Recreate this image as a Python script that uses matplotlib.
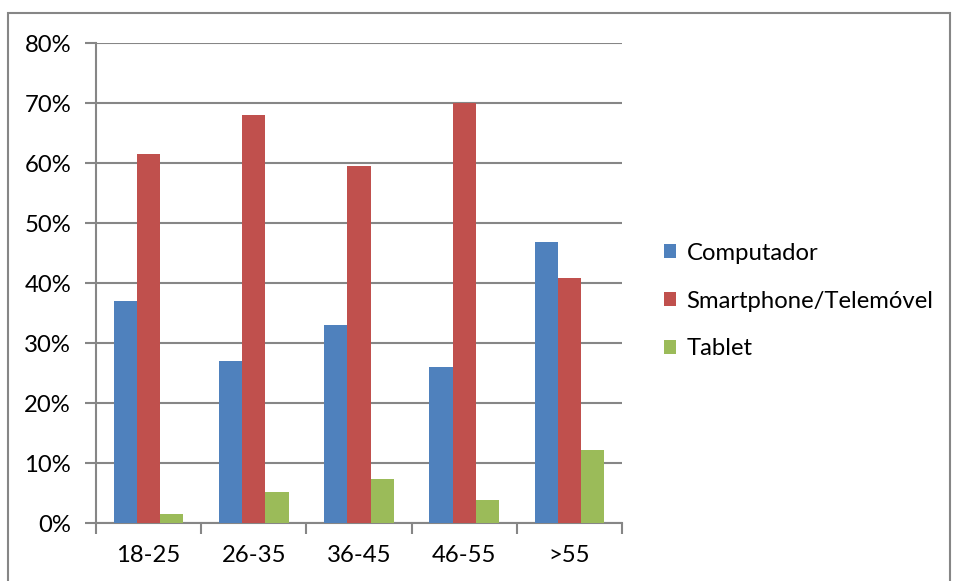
import matplotlib.pyplot as plt
import numpy as np
from matplotlib.patches import Rectangle, Patch

plt.rcParams['font.family'] = ['Lato', 'DejaVu Sans']

# Age groups and device shares (%)
grupos = ['18-25', '26-35', '36-45', '46-55', '>55']
computador = [37, 27, 33, 26, 46.8]
smartphone = [61.5, 68, 59.5, 70, 40.8]
tablet = [1.5, 5.2, 7.3, 3.9, 12.2]
series_nomes = ['Computador', 'Smartphone/Telemóvel', 'Tablet']
cores = ['#4F81BD', '#C0504D', '#9BBB59']

cinza = '#868686'
fs = 17.2

fig = plt.figure(figsize=(9.54, 5.81), dpi=100)
ax = fig.add_axes([96/954, 1 - 523/581, (622 - 96)/954, (523 - 43)/581])

# outer chart border
fig.patches.append(Rectangle((8/954, -0.1), (950 - 8)/954, 1.1 - 13/581,
                             transform=fig.transFigure, fill=False,
                             edgecolor=cinza, linewidth=1.5))

x = np.arange(len(grupos))
w = 0.22
for i, (vals, cor) in enumerate(zip([computador, smartphone, tablet], cores)):
    ax.bar(x + (i - 1) * w, vals, w, color=cor, zorder=3)

ax.set_xlim(-0.5, len(grupos) - 0.5)
ax.set_ylim(0, 80)
ax.set_yticks(range(0, 81, 10))
ax.set_yticklabels([f'{v}%' for v in range(0, 81, 10)])
ax.set_xticks(x)
ax.set_xticklabels(grupos)
ax.set_xticks(np.arange(-0.5, len(grupos)), minor=True)

ax.grid(axis='y', color=cinza, linewidth=1.5, zorder=0)
for s in ['top', 'right']:
    ax.spines[s].set_visible(False)
for s in ['left', 'bottom']:
    ax.spines[s].set_color(cinza)
    ax.spines[s].set_linewidth(1.5)

ax.tick_params(axis='y', length=8, width=1.5, color=cinza, labelsize=fs, pad=10)
ax.tick_params(axis='x', which='major', length=0, labelsize=fs, pad=16)
ax.tick_params(axis='x', which='minor', length=8, width=1.5, color=cinza)

handles = [Patch(facecolor=c, label=n) for c, n in zip(cores, series_nomes)]
fig.legend(handles=handles, loc='center left', bbox_to_anchor=(664/954, 1 - 301/581),
           frameon=False, fontsize=fs, handlelength=0.52, handleheight=0.52,
           handletextpad=0.43, labelspacing=1.12, borderpad=0, borderaxespad=0)

fig.savefig('out.png', dpi=100)
